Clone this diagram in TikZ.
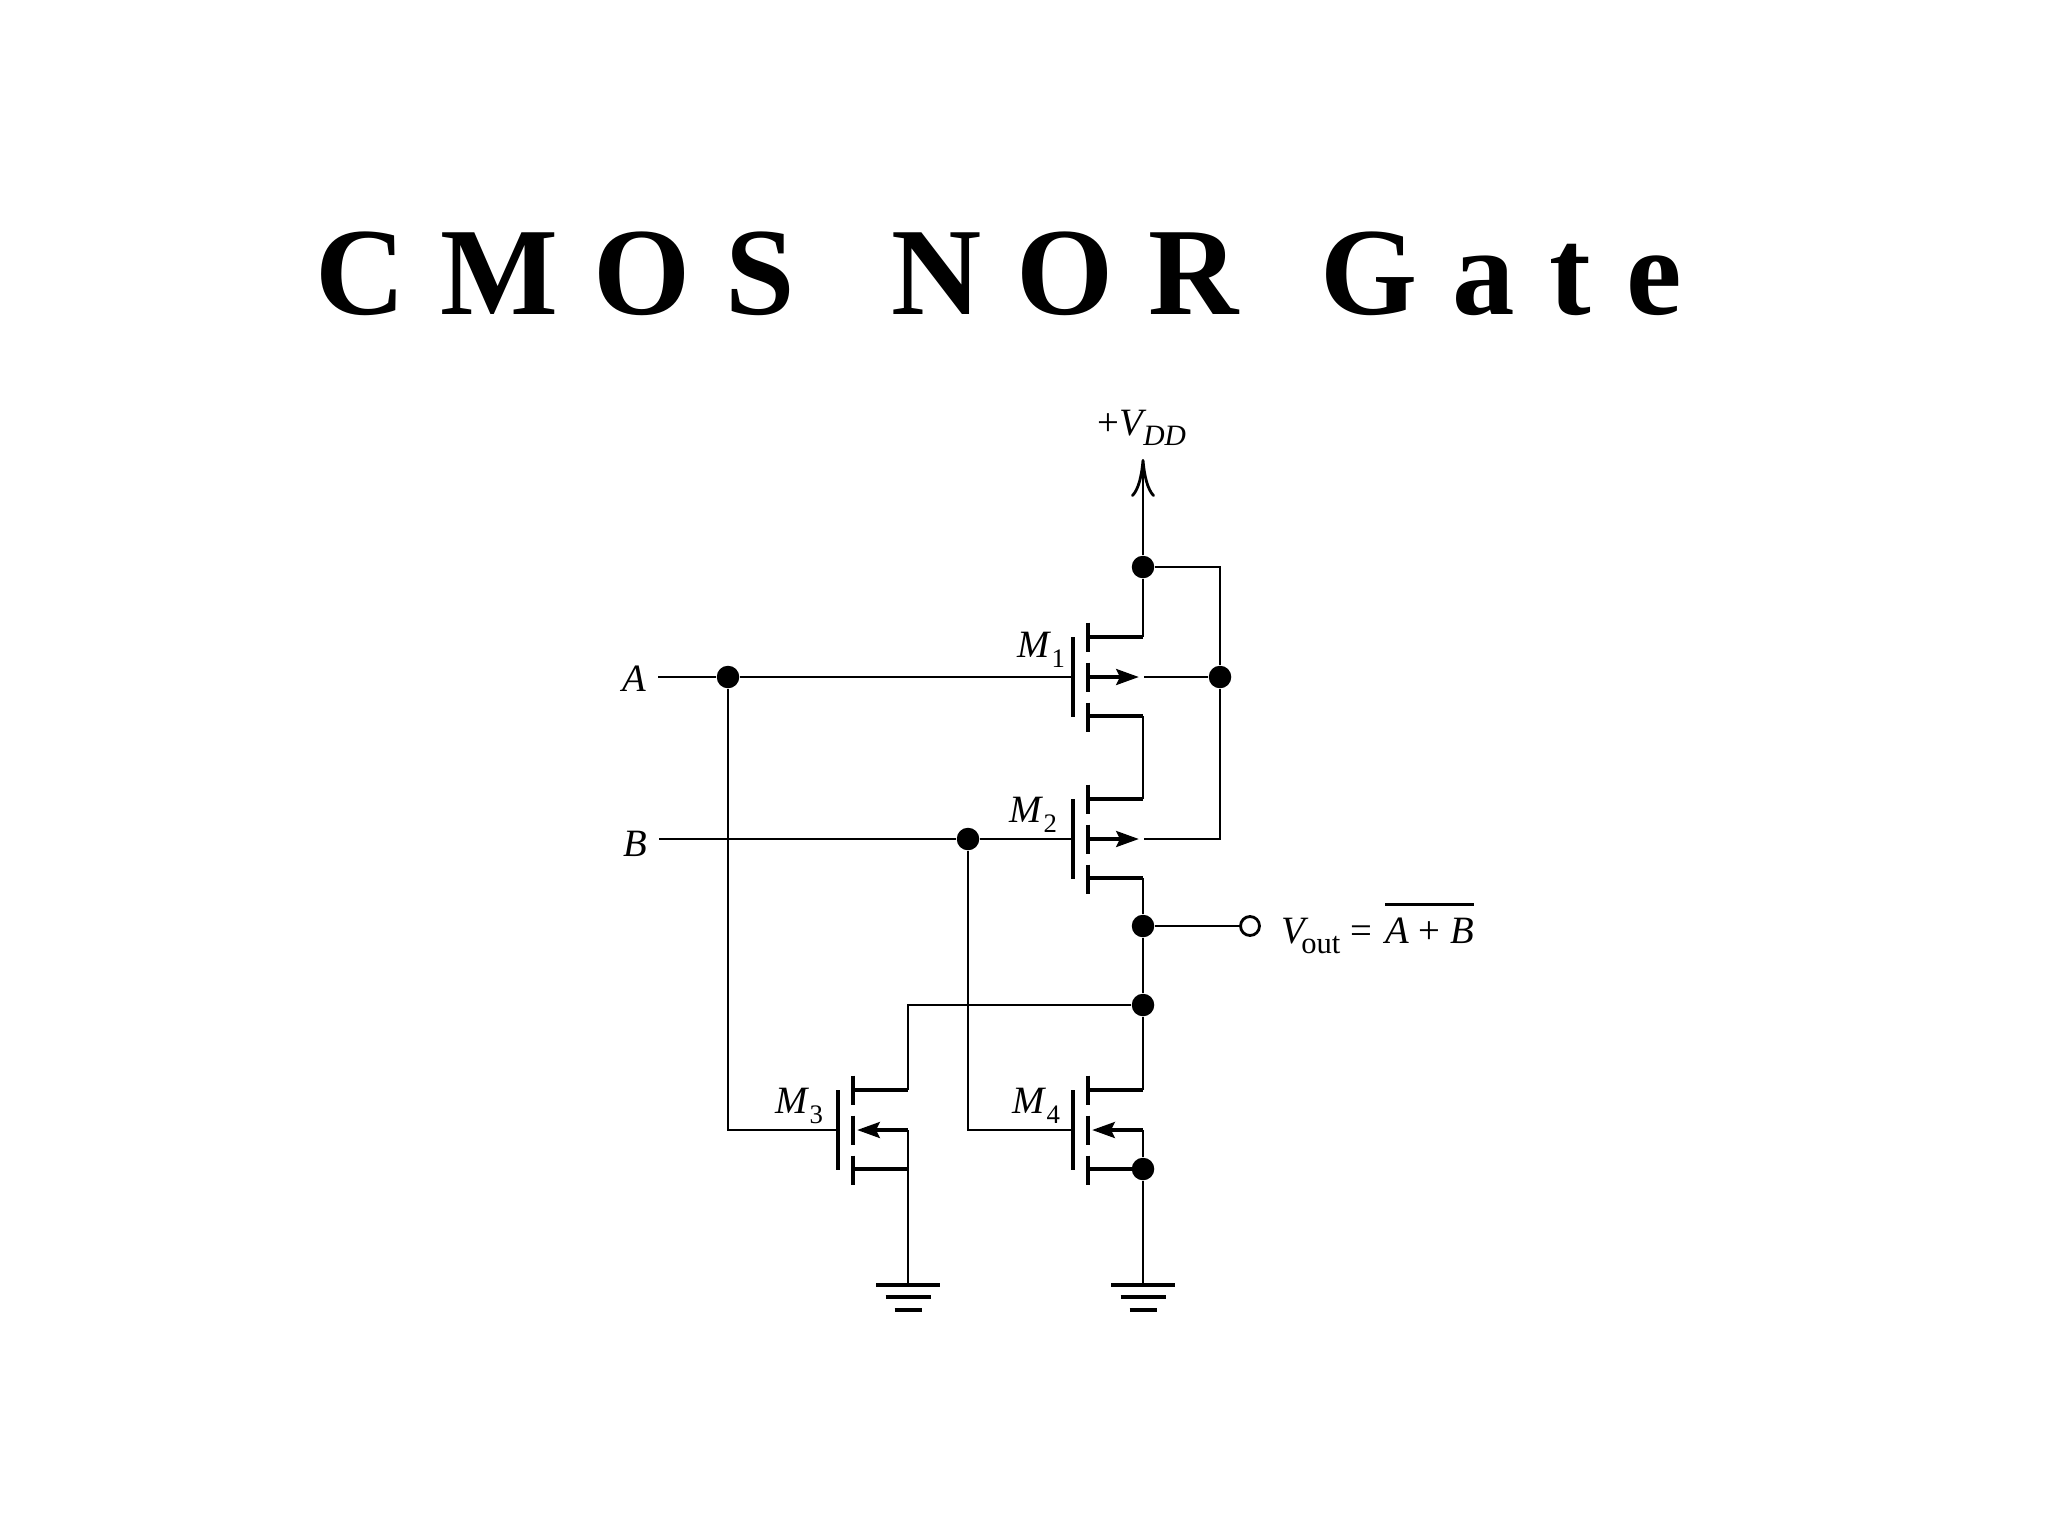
\documentclass[tikz,border=0pt]{standalone}
\usepackage{fontspec}
\setmainfont{Liberation Serif}
\newfontfamily\titlefont[LetterSpace=28]{Liberation Serif}
\usepackage{tikz}
\usetikzlibrary{arrows.meta}
\newcommand{\lowsub}[2][7.6]{\raisebox{-2.9pt}{\fontsize{#1}{9}\selectfont #2}}
\begin{document}
\begin{tikzpicture}[x=0.01cm,y=-0.01cm,
    every node/.style={font=\fontsize{11}{13}\selectfont},
    wire/.style={line width=0.8pt},
    stub/.style={line width=1.35pt},
    gatebar/.style={line width=1.4pt},
    gndbar/.style={line width=1.4pt},
    dot/.style={circle,fill=black,inner sep=0pt,minimum size=6.4pt},
    opendot/.style={circle,draw,wire,fill=white,inner sep=0pt,minimum size=5.4pt},
    body/.style={stub,-{Stealth[length=6.4pt,width=4.4pt,inset=1pt]}}]
  \useasboundingbox (0,0) rectangle (2048,1536);
  \node[anchor=base west,inner sep=0pt,font=\titlefont\fontsize{35.5}{41}\bfseries\selectfont] (title) at (315,314) {CMOS\hspace{8.5pt} NOR\hspace{4.5pt} Gate};
  \foreach \m/\x/\y in {M1/1073/677,M2/1073/839,M3/838/1130,M4/1073/1130} {
    \coordinate (\m g) at (\x,\y);
    \coordinate (\m d) at (\x+15,\y-40);
    \coordinate (\m b) at (\x+15,\y);
    \coordinate (\m s) at (\x+15,\y+39);
    \coordinate (\m dr) at (\x+70,\y-40);
    \coordinate (\m br) at (\x+70,\y);
    \coordinate (\m sr) at (\x+70,\y+39);
    \draw[gatebar] (\x,\y-40) -- (\x,\y+40);
    \foreach \k in {-40,0,40}
      \draw[gatebar] (\x+15,\y+\k-14.5) -- (\x+15,\y+\k+14.5);
    \draw[stub] (\m d) -- (\m dr);
    \draw[stub] (\m s) -- (\m sr);
  }
  \node[dot] (vdd) at (1143,567) {};
  \node[dot] (rail) at (1220,677) {};
  \node[dot] (inA) at (728,677) {};
  \node[dot] (inB) at (968,839) {};
  \node[dot] (out) at (1143,926) {};
  \node[dot] (fb) at (1143,1005) {};
  \node[dot] (src) at (1143,1169) {};
  \node[opendot] (vout) at (1250,926) {};
  \coordinate (top) at (1143,459);
  \coordinate (gnd3) at (908,1285);
  \coordinate (gnd4) at (1143,1285);
  \coordinate (M1tap) at (1144,677);
  \coordinate (M2tap) at (1144,839);
  \coordinate (M1tip) at (1139,677);
  \coordinate (M2tip) at (1139,839);
  \coordinate (M3tip) at (857,1130);
  \coordinate (M4tip) at (1092,1130);
  \node (lblA) at (634,679) {\textit{A}};
  \node (lblB) at (635,844) {\textit{B}};
  \node[anchor=base west,inner sep=0pt] (lblVDD) at (1097,435) {+\textit{V}\kern-1pt\lowsub[8.4]{\textit{DD}}};
  \node[anchor=base west,inner sep=0pt] (lblM1) at (1017,657) {\textit{M}\lowsub{1}};
  \node[anchor=base west,inner sep=0pt] (lblM2) at (1009,822) {\textit{M}\lowsub{2}};
  \node[anchor=base west,inner sep=0pt] (lblM3) at (775,1113) {\textit{M}\lowsub{3}};
  \node[anchor=base west,inner sep=0pt] (lblM4) at (1012,1113) {\textit{M}\lowsub{4}};
  \node[anchor=base west,inner sep=0pt] (lblVout) at (1281,943) {\textit{V}\kern-2.2pt\lowsub[8.7]{out} = \kern1.1pt\vbox{\hrule height 0.75pt \kern 3.4pt \hbox{\textit{A} + \textit{B}}}};
  \draw[wire,-{Computer Modern Rightarrow[length=10.8pt,width=6.8pt]}] (vdd) -- (top);
  \draw[wire] (vdd) -- (M1dr);
  \draw[wire] (vdd) -| (rail);
  \draw[wire] (M1tap) -- (rail);
  \draw[wire] (rail) |- (M2tap);
  \draw[wire] (M1sr) -- (M2dr);
  \draw[wire] (M2sr) -- (out);
  \draw[wire] (out) -- (vout);
  \draw[wire] (out) -- (fb);
  \draw[wire] (fb) -- (M4dr);
  \draw[wire] (fb) -| (M3dr);
  \draw[wire] (M4br) -- (src);
  \draw[wire] (M3br) -- (gnd3);
  \draw[wire] (src) -- (gnd4);
  \draw[stub] (M4sr) -- (src);
  \draw[wire] (lblA.east |- inA) -- (inA);
  \draw[wire] (inA) -- (M1g);
  \draw[wire] (inA) |- (M3g);
  \draw[wire] (lblB.east |- inB) -- (inB);
  \draw[wire] (inB) -- (M2g);
  \draw[wire] (inB) |- (M4g);
  \draw[body] (M1b) -- (M1tip);
  \draw[body] (M2b) -- (M2tip);
  \draw[body] (M3br) -- (M3tip);
  \draw[body] (M4br) -- (M4tip);
  \foreach \g/\x in {gnd3/908,gnd4/1143} {
    \draw[gndbar] (\x-32,1285) -- (\x+32,1285);
    \draw[gndbar] (\x-22.5,1297) -- (\x+22.5,1297);
    \draw[gndbar] (\x-13.5,1310) -- (\x+13.5,1310);
  }
\end{tikzpicture}
\end{document}
